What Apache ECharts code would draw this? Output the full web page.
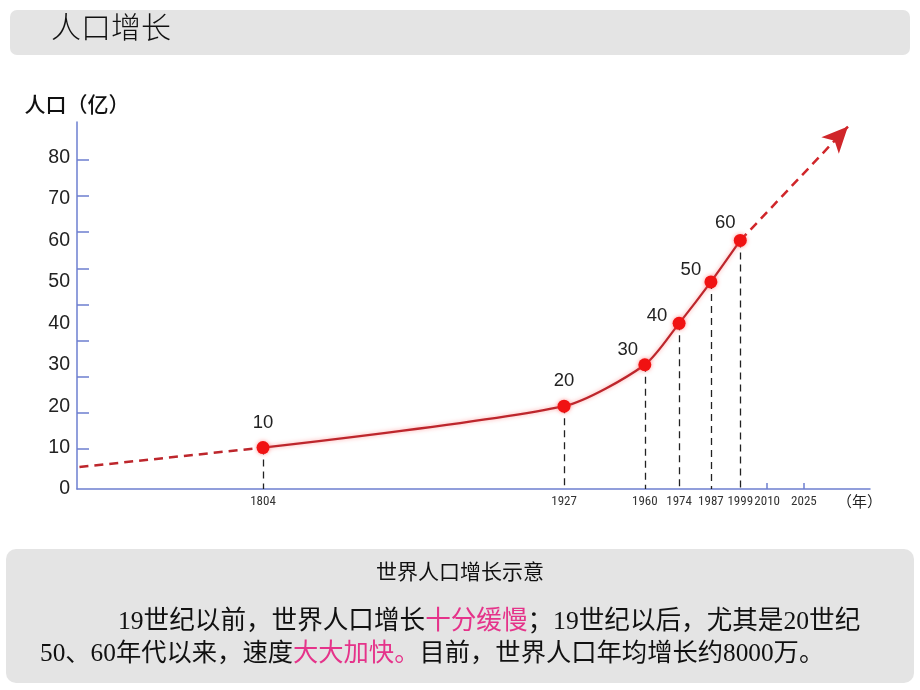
<!DOCTYPE html>
<html>
<head>
<meta charset="utf-8">
<script src="https://cdn.jsdelivr.net/npm/echarts@6/dist/echarts.min.js"></script>
<style>
html,body{margin:0;padding:0;background:#fff;}
#chart{width:920px;height:690px;}
</style>
</head>
<body>
<div id="chart"></div>
<script>
// ---- data ----
const years = [1804, 1927, 1960, 1974, 1987, 1999];
const population = [10, 20, 30, 40, 50, 60];
const xLabelYears = [1804, 1927, 1960, 1974, 1987, 1999, 2010, 2025];
const xTickYears = [2010, 2025];
const yLabelValues = [0, 10, 20, 30, 40, 50, 60, 70, 80];
const yTickValues = [10, 20, 30, 40, 50, 60, 70, 80, 90];
const pastTrend = [[1729, 5.3], [1804, 10]];
const futureTrend = [[1999, 60], [2043, 87.5]];

// ---- styles ----
const labelOffsets = [[0, -4], [0, -4], [-17, 6], [-22, 14], [-20, 9], [-15, 3]];
const axisBlue = '#6d7fd0';
const lineRed = '#bd262c';
const dotRed = '#f01212';
const pink = '#e5338a';
const serifCJK = 'Liberation Serif, Noto Sans CJK SC';

const mainData = years.map((y, i) => ({
  value: [y, population[i]],
  label: { offset: labelOffsets[i] }
}));
const dropLines = years.map((y, i) => [{ coord: [y, population[i]] }, { coord: [y, 0] }]);

const chart = echarts.init(document.getElementById('chart'), null, { renderer: 'canvas' });

const option = {
  backgroundColor: '#ffffff',
  animation: false,
  title: {
    text: '人口增长',
    left: 46,
    top: 7,
    textStyle: { fontSize: 30, fontWeight: 300, color: '#111', fontFamily: 'Noto Sans CJK SC' }
  },
  graphic: [
    { type: 'rect', z: -10, shape: { x: 10, y: 10, width: 900, height: 45, r: 7 }, style: { fill: '#e4e4e4' } },
    { type: 'rect', z: -10, shape: { x: 6, y: 549, width: 908, height: 134, r: 10 }, style: { fill: '#e4e4e4' } },
    {
      type: 'text', left: 'center', top: 563,
      style: { text: '世界人口增长示意', fontSize: 21, fill: '#111', fontFamily: serifCJK }
    },
    {
      type: 'text', left: 118, top: 609,
      style: {
        text: '{a|19世纪以前，世界人口增长}{b|十分缓慢}{a|；19世纪以后，尤其是20世纪}',
        rich: {
          a: { fontSize: 25.6, fill: '#111', fontFamily: serifCJK },
          b: { fontSize: 25.6, fill: pink, fontFamily: serifCJK }
        }
      }
    },
    {
      type: 'text', left: 40, top: 642,
      style: {
        text: '{a|50、60年代以来，速度}{b|大大加快。}{a|目前，世界人口年均增长约8000万。}',
        rich: {
          a: { fontSize: 25.3, fill: '#111', fontFamily: serifCJK },
          b: { fontSize: 25.3, fill: pink, fontFamily: serifCJK }
        }
      }
    }
  ],
  grid: { left: 77, right: 50, top: 122, bottom: 201, containLabel: false },
  xAxis: {
    type: 'value',
    min: 1728,
    max: 2052,
    name: '（年）',
    nameLocation: 'end',
    nameGap: -33,
    nameTextStyle: { align: 'left', verticalAlign: 'top', padding: [5, 0, 0, 0], fontSize: 15, color: '#222', fontFamily: 'Noto Sans CJK SC' },
    axisLine: { show: true, lineStyle: { color: axisBlue, width: 1.5 } },
    axisTick: { show: true, inside: true, length: 6, customValues: xTickYears, lineStyle: { color: axisBlue, width: 1.5 } },
    axisLabel: {
      show: true,
      customValues: xLabelYears,
      margin: 6,
      fontSize: 13,
      color: '#333',
      fontFamily: 'Liberation Sans Narrow, Roboto Condensed, Liberation Sans, Arial',
      formatter: v => String(v)
    },
    splitLine: { show: false }
  },
  yAxis: [
    {
      type: 'value',
      min: 0,
      max: 88.6,
      name: '人口（亿）',
      nameLocation: 'end',
      nameGap: 7,
      nameTextStyle: { align: 'center', fontSize: 21, fontWeight: 500, color: '#111', fontFamily: 'Noto Sans CJK SC' },
      axisLine: { show: true, lineStyle: { color: axisBlue, width: 1.5 } },
      axisTick: { show: false },
      axisLabel: {
        customValues: yLabelValues,
        margin: 7,
        fontSize: 19.5,
        color: '#222',
        fontFamily: 'Liberation Sans, Arial'
      },
      splitLine: { show: false }
    },
    {
      type: 'value',
      min: -1.1,
      max: 100.5,
      position: 'left',
      offset: 0,
      axisLine: { show: false },
      axisTick: { show: true, inside: true, length: 12, customValues: yTickValues, lineStyle: { color: axisBlue, width: 1.5 } },
      axisLabel: { show: false },
      splitLine: { show: false }
    }
  ],
  series: [
    {
      name: 'drop',
      type: 'line',
      z: 1,
      data: years.map((y, i) => [y, population[i]]),
      showSymbol: false,
      symbol: 'none',
      lineStyle: { opacity: 0 },
      silent: true,
      markLine: {
        silent: true,
        symbol: ['none', 'none'],
        label: { show: false },
        lineStyle: { color: '#222', width: 1.3, type: [7, 5] },
        data: dropLines
      }
    },
    {
      name: 'past',
      type: 'line',
      z: 2,
      data: pastTrend,
      symbol: 'none',
      lineStyle: { color: lineRed, width: 2.5, type: [9, 6] },
      silent: true
    },
    {
      name: 'future',
      type: 'line',
      z: 2,
      data: futureTrend,
      symbol: 'none',
      lineStyle: { opacity: 0 },
      silent: true,
      markLine: {
        silent: true,
        symbol: ['none', 'arrow'],
        symbolSize: [18, 26],
        label: { show: false },
        lineStyle: { color: '#d0262a', width: 2.5, type: [9, 6] },
        data: [[{ coord: futureTrend[0] }, { coord: futureTrend[1] }]]
      }
    },
    {
      name: 'population',
      type: 'line',
      z: 5,
      data: mainData,
      smooth: 0.25,
      symbol: 'circle',
      symbolSize: 13,
      itemStyle: { color: dotRed, shadowBlur: 4, shadowColor: 'rgba(255,80,80,0.6)' },
      lineStyle: { color: lineRed, width: 2.2, shadowBlur: 4, shadowColor: 'rgba(255,90,90,0.55)' },
      label: {
        show: true,
        position: 'top',
        distance: 5,
        fontSize: 18.5,
        color: '#222',
        fontFamily: 'Liberation Sans, Arial',
        formatter: p => String(p.value[1])
      }
    }
  ]
};

chart.setOption(option);
</script>
</body>
</html>
